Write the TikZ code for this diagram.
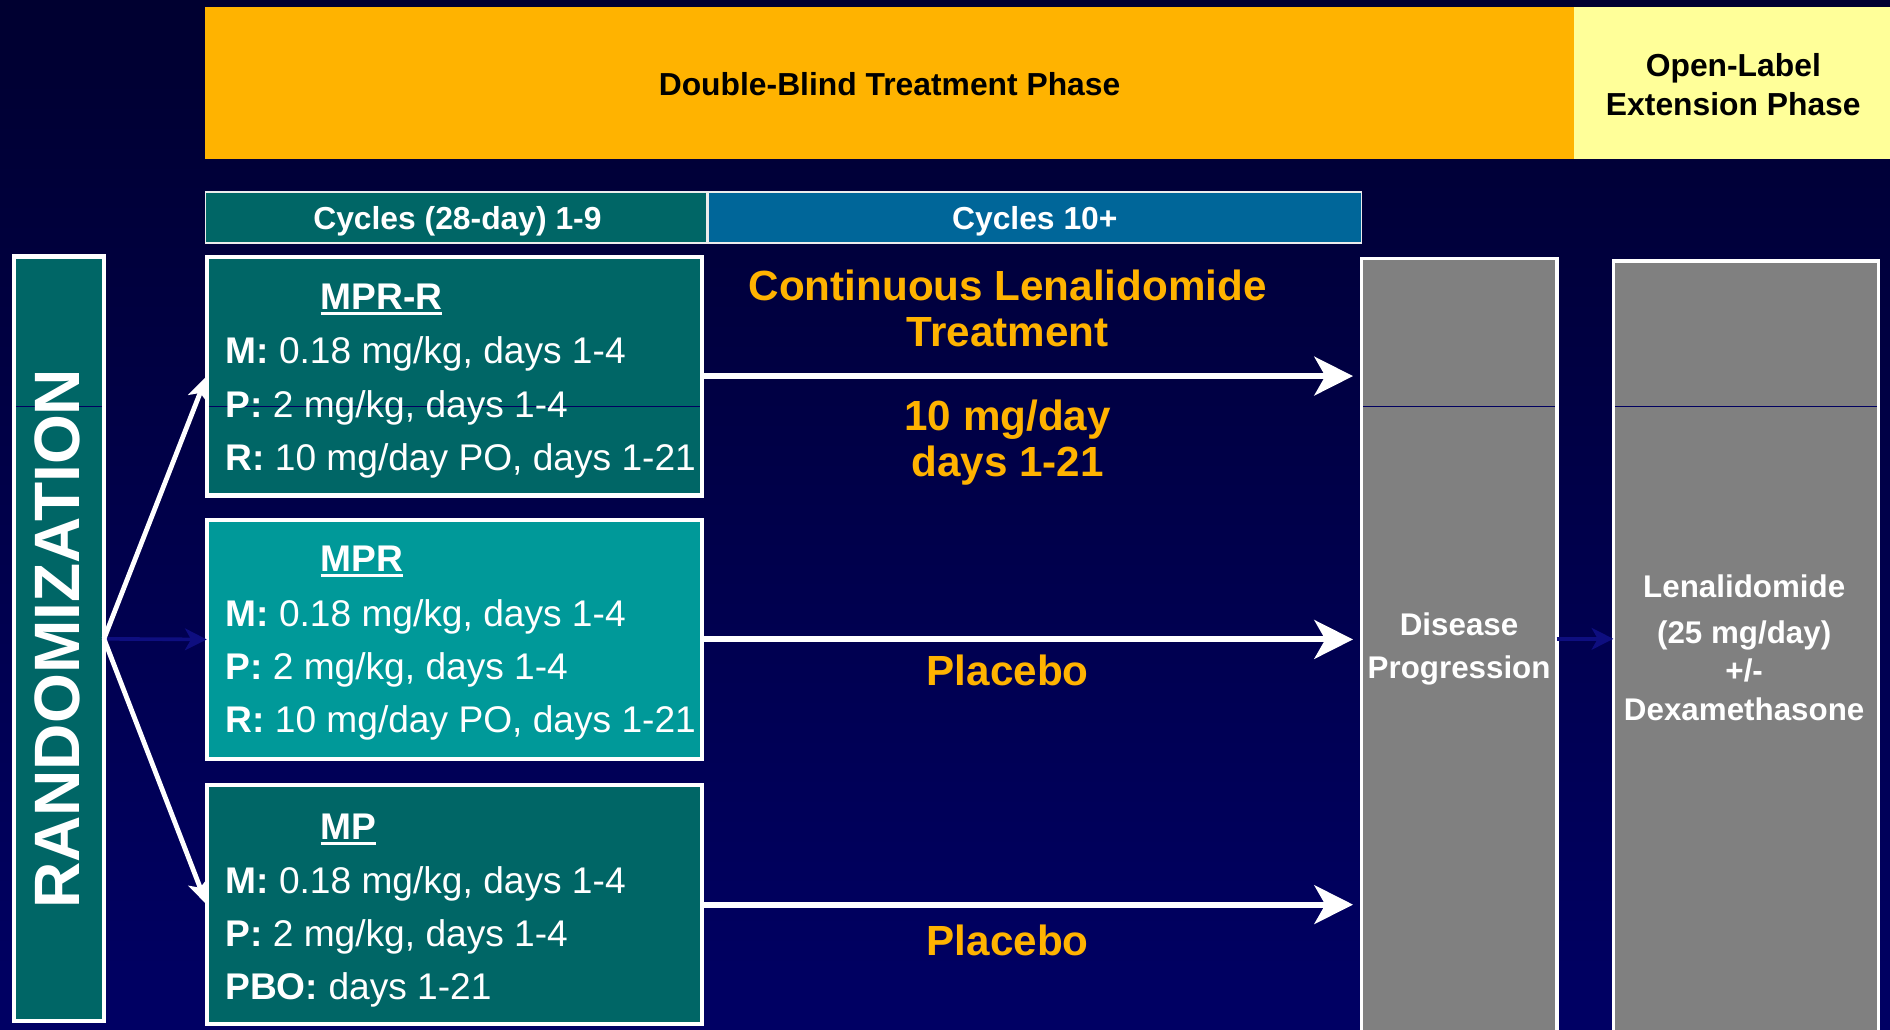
\documentclass[tikz,border=0pt]{standalone}
\usepackage{fontspec}
\setmainfont{Liberation Sans}
\usetikzlibrary{arrows.meta,calc}
\definecolor{navytop}{RGB}{0,0,48}
\definecolor{navybot}{RGB}{0,0,100}
\definecolor{phaseorange}{RGB}{255,179,0}
\definecolor{phaseyellow}{RGB}{255,255,153}
\definecolor{tealdark}{RGB}{0,102,102}
\definecolor{teallight}{RGB}{0,153,153}
\definecolor{cycblue}{RGB}{0,102,153}
\definecolor{boxgray}{RGB}{128,128,128}
\definecolor{faintblue}{RGB}{14,14,128}
\definecolor{seamline}{RGB}{0,0,96}
\newsavebox\ulbox
\newcommand\thickul[1]{\sbox\ulbox{#1}\rlap{\rule[-4.5pt]{\wd\ulbox}{2.6pt}}\usebox\ulbox}
\newcommand\fsz[2]{\fontsize{#1}{#2}\selectfont}
\begin{document}
\begin{tikzpicture}[x=1pt,y=-1pt,
  every node/.style={inner sep=0pt, outer sep=0pt},
  phasebox/.style={minimum height=126pt},
  cycbox/.style={draw=white!85!gray, line width=1.5pt, minimum height=42pt},
  armbox/.style={draw=white, line width=3.5pt, minimum width=411pt, minimum height=198pt},
  graybox/.style={draw=white, line width=3pt, fill=boxgray},
  boxline/.style={anchor=base west, text=white, font=\fsz{30.8}{36}},
  boxtitle/.style={anchor=base west, text=white, font=\fsz{30.8}{36}\bfseries},
  hdrtext/.style={anchor=base, font=\fsz{26.4}{30}\bfseries},
  orangetext/.style={anchor=base, text=phaseorange, font=\fsz{35}{40}\bfseries},
  graytext/.style={anchor=base, text=white, font=\fsz{26}{30}\bfseries},
  bigarrow/.style={draw=white, line width=5pt, shorten >=7pt, -{Stealth[length=32pt, width=32pt, inset=9pt]}},
  smallarrow/.style={draw=white, line width=4pt, -{Stealth[length=20pt, width=17pt, inset=5pt]}},
  faintarrow/.style={draw=faintblue, line width=3pt, -{Stealth[length=18pt, width=18pt, inset=5pt]}},
  seam/.style={draw=seamline, line width=0.9pt}
]
% background
\shade[top color=navytop, bottom color=navybot] (0,0) rectangle (1568,854);
\useasboundingbox (0,0) rectangle (1568,854);

% phase headers
\node[phasebox, fill=phaseorange, minimum width=1136pt] (dbphase) at (738,69) {};
\node[phasebox, fill=phaseyellow, minimum width=262pt] (olphase) at (1437,69) {};
\node[hdrtext, text=black] (dbtext) at (738,79.5) {Double-Blind Treatment Phase};
\node[hdrtext, text=black] (oltext1) at (1438,63.5) {Open-Label};
\node[hdrtext, text=black] (oltext2) at (1438,95.5) {Extension Phase};

% cycle headers
\node[cycbox, fill=tealdark, minimum width=416pt] (cyc1) at (378.5,180.5) {};
\node[cycbox, fill=cycblue, minimum width=542pt] (cyc2) at (858.5,180.5) {};
\node[hdrtext, text=white] (cyc1text) at (379.5,190.5) {Cycles (28-day) 1-9};
\node[hdrtext, text=white] (cyc2text) at (858.5,190.5) {Cycles 10+};

% randomization
\node[draw=white, line width=3.5pt, fill=tealdark, minimum width=74.5pt, minimum height=634.5pt] (rand) at (49,530) {};

% treatment arm boxes
\node[armbox, fill=tealdark] (mprr) at (377,312) {};
\node[armbox, fill=teallight] (mpr) at (377,530.5) {};
\node[armbox, fill=tealdark] (mp) at (377,750.5) {};

% gray boxes
\node[graybox, minimum width=162pt, minimum height=664pt] (dp) at (1210.5,546.5) {};
\node[graybox, minimum width=220pt, minimum height=662pt] (len) at (1448.5,547.5) {};

% thin seam line inside the boxes
\coordinate (seamy) at (0,337);
\draw[seam] ([xshift=1.75pt]rand.west |- seamy) -- ([xshift=-1.75pt]rand.east |- seamy);
\draw[seam] ([xshift=1.75pt]mprr.west |- seamy) -- ([xshift=-1.75pt]mprr.east |- seamy);
\draw[seam] ([xshift=1.5pt]dp.west |- seamy) -- ([xshift=-1.5pt]dp.east |- seamy);
\draw[seam] ([xshift=1.5pt]len.west |- seamy) -- ([xshift=-1.5pt]len.east |- seamy);

% texts
\node[rotate=90, text=white, font=\fsz{53.2}{60}\bfseries] (randtext) at (48,530) {RANDOMIZATION};

\node[boxtitle] (mprrT) at (266,257) {\thickul{MPR-R}};
\node[boxline] (mprr1) at (187,301.5) {\textbf{M:} 0.18 mg/kg, days 1-4};
\node[boxline] (mprr2) at (187,346.5) {\textbf{P:} 2 mg/kg, days 1-4};
\node[boxline] (mprr3) at (187,390.5) {\textbf{R:} 10 mg/day PO, days 1-21};

\node[boxtitle] (mprT) at (266,474.5) {\thickul{MPR}};
\node[boxline] (mpr1) at (187,519.5) {\textbf{M:} 0.18 mg/kg, days 1-4};
\node[boxline] (mpr2) at (187,563.5) {\textbf{P:} 2 mg/kg, days 1-4};
\node[boxline] (mpr3) at (187,607.5) {\textbf{R:} 10 mg/day PO, days 1-21};

\node[boxtitle] (mpT) at (266,696.5) {\thickul{MP}};
\node[boxline] (mp1) at (187,741.5) {\textbf{M:} 0.18 mg/kg, days 1-4};
\node[boxline] (mp2) at (187,785.5) {\textbf{P:} 2 mg/kg, days 1-4};
\node[boxline] (mp3) at (187,829.5) {\textbf{PBO:} days 1-21};

\node[graytext] (dp1) at (1210.5,527.5) {Disease};
\node[graytext] (dp2) at (1210.5,562.5) {Progression};
\node[graytext] (len1) at (1447,495.5) {Lenalidomide};
\node[graytext] (len2) at (1447,533.5) {(25 mg/day)};
\node[graytext] (len3) at (1447,565) {+/-};
\node[graytext] (len4) at (1447,597.5) {Dexamethasone};

% orange labels
\node[orangetext] (cont1) at (836,249.5) {Continuous Lenalidomide};
\node[orangetext] (cont2) at (836,287.5) {Treatment};
\node[orangetext] (dose1) at (836,357.5) {10 mg/day};
\node[orangetext] (dose2) at (836,395.5) {days 1-21};
\node[orangetext] (plac1) at (836,568.5) {Placebo};
\node[orangetext] (plac2) at (836,792.5) {Placebo};

% connectors
\draw[faintarrow] (rand.east) -- (mpr.west);
\draw[faintarrow] (dp.east |- rand.east) -- (len.west |- rand.east);
\draw[smallarrow] (rand.east) -- (mprr.west);
\draw[smallarrow] (rand.east) -- (mp.west);
\draw[bigarrow] (mprr.east) -- (mprr.east -| dp.west);
\draw[bigarrow] (mpr.east) -- (mpr.east -| dp.west);
\draw[bigarrow] (mp.east) -- (mp.east -| dp.west);
\end{tikzpicture}
\end{document}
